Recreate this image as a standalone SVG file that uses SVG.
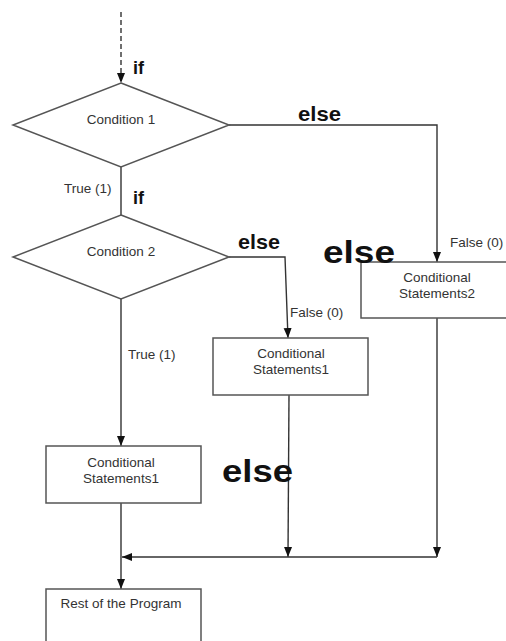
<svg xmlns="http://www.w3.org/2000/svg" width="506" height="641" viewBox="0 0 506 641">
  <style>
    .shape { fill: #ffffff; stroke: #555555; stroke-width: 1.5; }
    .wire { fill: none; stroke: #333333; stroke-width: 1.4; }
    .lbl { font-family: "Liberation Sans", Arial, sans-serif; font-size: 13.5px; fill: #333333; text-anchor: middle; }
    .edge { font-family: "Liberation Sans", Arial, sans-serif; font-size: 13.5px; fill: #333333; }
    .kw { font-family: "Liberation Sans", Arial, sans-serif; font-weight: bold; fill: #111111; }
  </style>
  <defs>
    <marker id="arrow" markerUnits="userSpaceOnUse" markerWidth="10" markerHeight="10" viewBox="0 0 10 10" refX="10" refY="5" orient="auto">
      <path d="M0,1 L10,5 L0,9 Z" fill="#111111"/>
    </marker>
  </defs>

  <!-- connectors -->
  <g id="connectors">
    <line class="wire" x1="121" y1="12" x2="121" y2="83" stroke-dasharray="5,3" marker-end="url(#arrow)"/>
    <polyline class="wire" points="229,125 437,125 437,262" marker-end="url(#arrow)"/>
    <line class="wire" x1="121" y1="167" x2="121" y2="215"/>
    <polyline class="wire" points="229,257 285,257 288,338" marker-end="url(#arrow)"/>
    <line class="wire" x1="121" y1="299" x2="121" y2="446" marker-end="url(#arrow)"/>
    <line class="wire" x1="289" y1="395" x2="288" y2="557" marker-end="url(#arrow)"/>
    <line class="wire" x1="437" y1="318" x2="437" y2="557" marker-end="url(#arrow)"/>
    <line class="wire" x1="437" y1="557" x2="122" y2="557" marker-end="url(#arrow)"/>
    <line class="wire" x1="121" y1="503" x2="121" y2="589" marker-end="url(#arrow)"/>

    <text class="edge" x="64" y="193">True (1)</text>
    <text class="edge" x="128" y="359">True (1)</text>
    <text class="edge" x="450" y="247">False (0)</text>
    <text class="edge" x="290" y="317">False (0)</text>

    <text class="kw" x="133" y="74" font-size="18">if</text>
    <text class="kw" x="133" y="204" font-size="18">if</text>
    <text class="kw" x="298" y="121" font-size="21" textLength="43" lengthAdjust="spacingAndGlyphs">else</text>
    <text class="kw" x="238" y="249" font-size="21" textLength="42" lengthAdjust="spacingAndGlyphs">else</text>
  </g>

  <g id="cond1">
    <polygon class="shape" points="121,83 229,125 121,167 13,125"/>
    <text class="lbl" x="121" y="124">Condition 1</text>
  </g>

  <g id="cond2">
    <polygon class="shape" points="121,215 229,257 121,299 13,257"/>
    <text class="lbl" x="121" y="256">Condition 2</text>
  </g>

  <g id="stmt2">
    <rect class="shape" x="361" y="262" width="150" height="56"/>
    <text class="lbl" x="437" y="282">Conditional</text>
    <text class="lbl" x="437" y="298">Statements2</text>
  </g>

  <g id="stmt1-false">
    <rect class="shape" x="213" y="338" width="155" height="57"/>
    <text class="lbl" x="291" y="358">Conditional</text>
    <text class="lbl" x="291" y="374">Statements1</text>
  </g>

  <g id="stmt1-true">
    <rect class="shape" x="46" y="446" width="155" height="57"/>
    <text class="lbl" x="121" y="467">Conditional</text>
    <text class="lbl" x="121" y="483">Statements1</text>
  </g>

  <g id="rest">
    <rect class="shape" x="46" y="589" width="155" height="60"/>
    <text class="lbl" x="121" y="608">Rest of the Program</text>
  </g>

  <!-- large keyword labels drawn over the boxes -->
  <text class="kw" x="323" y="263" font-size="32" textLength="72" lengthAdjust="spacingAndGlyphs">else</text>
  <text class="kw" x="222" y="482" font-size="32" textLength="71" lengthAdjust="spacingAndGlyphs">else</text>
</svg>
